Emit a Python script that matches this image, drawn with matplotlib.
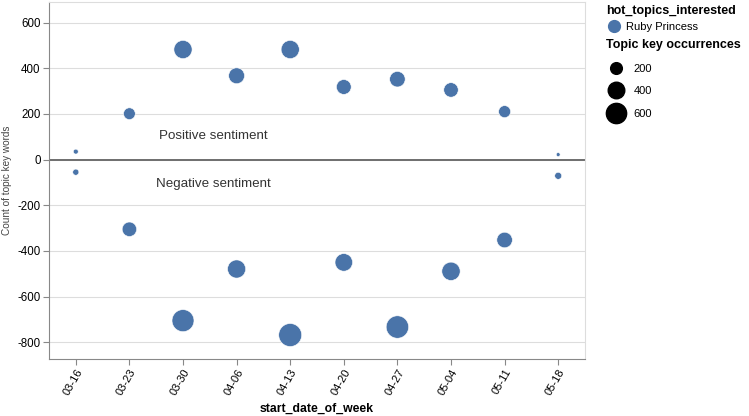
import matplotlib.pyplot as plt
from matplotlib.lines import Line2D
import numpy as np

plt.rcParams['font.family'] = ['Liberation Sans', 'DejaVu Sans']

weeks = ["03-16", "03-23", "03-30", "04-06", "04-13",
         "04-20", "04-27", "05-04", "05-11", "05-18"]
positive_counts = [35, 201, 482, 367, 482, 318, 352, 305, 210, 22]
negative_counts = [-55, -305, -705, -479, -768, -450, -733, -489, -352, -71]
topic = "Ruby Princess"
size_legend_values = [200, 400, 600]
y_ticks = [-800, -600, -400, -200, 0, 200, 400, 600]

BLUE = '#4a74a9'
SIZE_SCALE = 0.356  # points^2 per occurrence

fig = plt.figure(figsize=(7.49, 4.16), dpi=100)
ax = fig.add_axes([49/749, 57/416, 536/749, 357/416])

x = np.arange(len(weeks))
for counts in (positive_counts, negative_counts):
    c = np.array(counts)
    ax.scatter(x, c, s=SIZE_SCALE * np.abs(c), color=BLUE,
               edgecolors='white', linewidths=0.4, zorder=3)

ax.axhline(0, color='#6e6e6e', lw=1.4, zorder=2)
ax.text(2.57, 105, "Positive sentiment", ha='center', va='center', fontsize=9.6, color='#333333')
ax.text(2.57, -105, "Negative sentiment", ha='center', va='center', fontsize=9.6, color='#333333')

ax.set_xlim(-0.5, len(weeks) - 0.5)
ax.set_ylim(-873, 690)
ax.set_xticks(x)
ax.set_xticklabels(weeks, rotation=60, ha='right', rotation_mode='anchor', fontsize=8)
ax.set_yticks(y_ticks)
ax.set_yticklabels([str(v) for v in y_ticks], fontsize=8.3)
ax.grid(axis='y', color='#dddddd', lw=0.8)
ax.set_axisbelow(True)
ax.tick_params(color='#888888', length=4, width=0.8, pad=2)

for side in ('top', 'right'):
    ax.spines[side].set_color('#dddddd')
for side in ('left', 'bottom'):
    ax.spines[side].set_color('#888888')

ax.set_xlabel("start_date_of_week", fontsize=8.8, fontweight='bold', labelpad=4)
ax.set_ylabel("Count of topic key words", fontsize=7.2, color='#444444', labelpad=4)

color_handles = [Line2D([], [], marker='o', ls='', color=BLUE, markersize=8.5)]
leg1 = ax.legend(color_handles, [topic], title="hot_topics_interested",
                 loc='upper left', bbox_to_anchor=(598/749, 1 + 3/416),
                 bbox_transform=fig.transFigure, frameon=False, fontsize=8,
                 title_fontproperties={'weight': 'bold', 'size': 9},
                 alignment='left', handletextpad=0.4, borderpad=0.2,
                 handlelength=1.4)
ax.add_artist(leg1)

size_handles = [Line2D([], [], marker='o', ls='', color='black',
                       markersize=np.sqrt(SIZE_SCALE * v)) for v in size_legend_values]
ax.legend(size_handles, [str(v) for v in size_legend_values], title="Topic key occurrences",
          loc='upper left', bbox_to_anchor=(598/749, 1 - 31/416),
          bbox_transform=fig.transFigure, frameon=False, fontsize=8,
          title_fontproperties={'weight': 'bold', 'size': 9},
          alignment='left', handletextpad=0.6, borderpad=0.2,
          handlelength=1.9, labelspacing=1.15)

fig.savefig("out.png", dpi=100)
